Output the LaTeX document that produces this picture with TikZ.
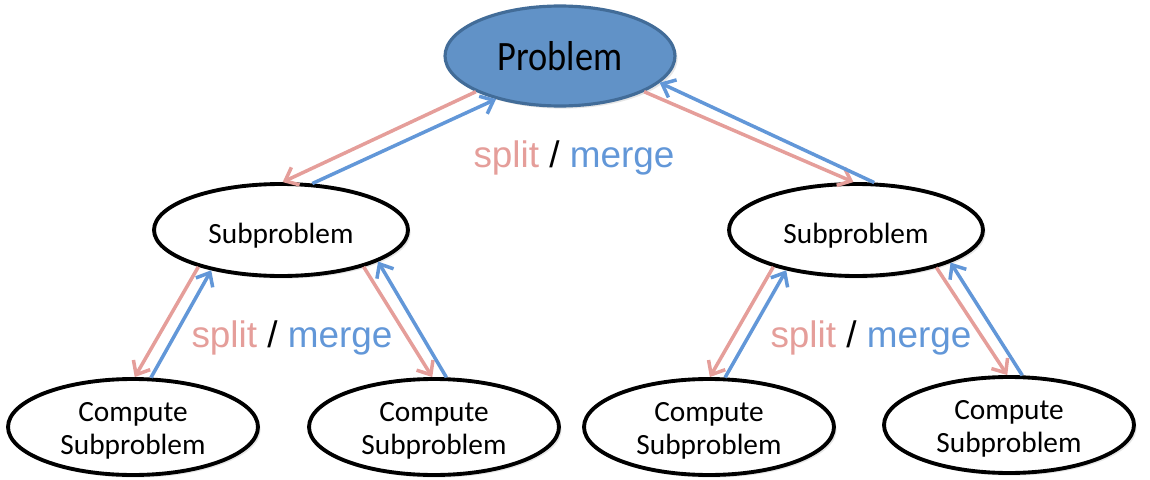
\documentclass[tikz,border=0pt]{standalone}
\usepackage{fontspec}
\setmainfont{Carlito}
\newfontfamily\probfont[FakeStretch=0.87]{Carlito}
\newfontfamily\labelfont{Liberation Sans}
\usetikzlibrary{shapes.geometric,arrows.meta,shadows}
\definecolor{splitred}{RGB}{229,158,154}
\definecolor{mergeblue}{RGB}{98,151,216}
\definecolor{probfill}{RGB}{97,146,199}
\definecolor{probline}{RGB}{66,108,152}
\tikzset{
  probnode/.style={ellipse, draw=probline, fill=probfill, line width=1.8pt, minimum width=4.6cm, minimum height=2cm,
    drop shadow={shadow xshift=1.5pt, shadow yshift=-1.5pt, opacity=0.2}, font=\probfont\fontsize{23.8}{26}\selectfont},
  subnode/.style={ellipse, draw, fill=white, line width=2.2pt, minimum width=5.08cm, minimum height=1.84cm,
    drop shadow={shadow xshift=1.5pt, shadow yshift=-1.5pt, opacity=0.2}, font=\fontsize{16.7}{17.6}\selectfont,
    execute at begin node={\rule{0pt}{18.5pt}}},
  leafnode/.style={subnode, minimum width=5cm, minimum height=1.92cm, inner sep=0pt, align=center,
    font=\fontsize{16.7}{19}\selectfont, execute at begin node={\rule{0pt}{34pt}}},
  splitarrow/.style={draw=splitred, line width=2pt, -{Straight Barb[length=6.5pt,width=11pt]}},
  mergearrow/.style={splitarrow, draw=mergeblue},
  smlabel/.style={font=\labelfont\fontsize{21}{24}\selectfont, anchor=base}
}
\begin{document}
\begin{tikzpicture}[x=0.02cm, y=-0.02cm]
\useasboundingbox (0,0) rectangle (1150,480);
\node[probnode] (prob) at (560,56) {Problem};
\node[subnode] (subl) at (281,230) {Subproblem};
\node[subnode] (subr) at (856,230) {Subproblem};
\node[leafnode] (leafa) at (133,427) {Compute\\Subproblem};
\node[leafnode] (leafb) at (434,427) {Compute\\Subproblem};
\node[leafnode] (leafc) at (709,427) {Compute\\Subproblem};
\node[leafnode] (leafd) at (1009,425) {Compute\\Subproblem};
\draw[splitarrow] (prob.203) -- (subl.88);
\draw[mergearrow] (subl.56) -- (prob.214);
\draw[splitarrow] (prob.337) -- (subr.93);
\draw[mergearrow] (subr.69) -- (prob.345);
\draw[splitarrow] (subl.204) -- (leafa.88);
\draw[mergearrow] (leafa.70) -- (subl.210);
\draw[splitarrow] (subl.336) -- (leafb.92);
\draw[mergearrow] (leafb.76) -- (subl.342);
\draw[splitarrow] (subr.204) -- (leafc.89);
\draw[mergearrow] (leafc.72) -- (subr.210);
\draw[splitarrow] (subr.335) -- (leafd.92);
\draw[mergearrow] (leafd.75) -- (subr.341);
\node[smlabel] (smtop) at (574,167) {\textcolor{splitred}{split} / \textcolor{mergeblue}{merge}};
\node[smlabel] (smleft) at (292,347) {\textcolor{splitred}{split} / \textcolor{mergeblue}{merge}};
\node[smlabel] (smright) at (871,347) {\textcolor{splitred}{split} / \textcolor{mergeblue}{merge}};
\end{tikzpicture}
\end{document}
